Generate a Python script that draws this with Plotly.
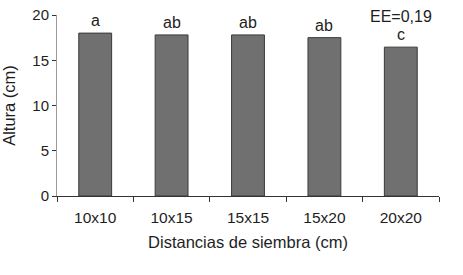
import plotly.graph_objects as go

categories = ["10x10", "10x15", "15x15", "15x20", "20x20"]
altura = [18.0, 17.8, 17.8, 17.5, 16.45]
letters = ["a", "ab", "ab", "ab", "c"]
y_ticks = [0, 5, 10, 15, 20]
ee_text = "EE=0,19"

FONT = "Liberation Sans, Arial, sans-serif"
TXT = "#1e1e1e"

fig = go.Figure()
fig.add_trace(go.Bar(
    x=categories, y=altura, width=0.43,
    marker=dict(color="#707070", line=dict(color="#3a3a3a", width=1)),
))

for c, v, t in zip(categories, altura, letters):
    fig.add_annotation(x=c, y=v, text=t, showarrow=False, yanchor="bottom",
                       yshift=2, font=dict(family=FONT, size=16, color=TXT))

fig.add_annotation(x=categories[-1], y=1, yref="paper", text=ee_text, showarrow=False,
                   yanchor="middle", yshift=-1, font=dict(family=FONT, size=16, color=TXT))

fig.update_layout(
    width=463, height=275,
    margin=dict(l=57, r=24, t=15, b=79),
    plot_bgcolor="white", paper_bgcolor="white",
    showlegend=False,
    font=dict(family=FONT, size=15, color=TXT),
)
fig.update_xaxes(
    automargin=False,
    showline=True, linecolor="#333", linewidth=1,
    ticks="outside", tickson="boundaries", ticklen=5, tickcolor="#333",
    ticklabelstandoff=7, tickfont=dict(size=15.5),
    title=dict(text="Distancias de siembra (cm)", standoff=11, font=dict(size=16.5)),
    showgrid=False,
)
fig.update_yaxes(
    automargin=False, ticklabeloverflow="allow",
    range=[0, 20], tickvals=y_ticks, showline=True, linecolor="#999", linewidth=1,
    ticks="outside", ticklen=4, tickcolor="#333", showgrid=False, zeroline=False,
    tickfont=dict(size=15),
    title=dict(text="Altura (cm)", standoff=14, font=dict(size=16.5)),
)

fig.write_html("out.html", config={"displayModeBar": False},
               post_script="document.body.style.margin='0';")
